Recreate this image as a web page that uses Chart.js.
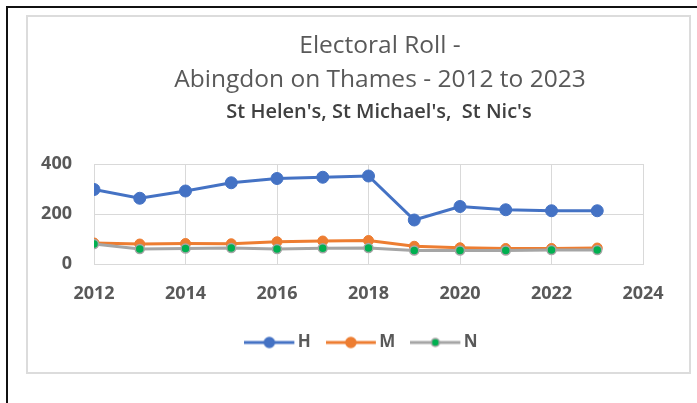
<!DOCTYPE html>
<html>
<head>
<meta charset="utf-8">
<script src="https://cdn.jsdelivr.net/npm/chart.js@4.4.1/dist/chart.umd.min.js"></script>
<style>
  html, body { margin: 0; padding: 0; background: #fff; overflow: hidden; }
  #frame {
    position: absolute; left: 6px; top: 6px; width: 720px; height: 420px;
    border-left: 2px solid #111; border-top: 2px solid #111;
  }
  #box {
    position: absolute; left: 26px; top: 15px; width: 665px; height: 359px;
    box-sizing: border-box; border: 2px solid #dcdcdc;
  }
  #wrap { position: absolute; left: 0; top: 0; width: 697px; height: 403px; }
</style>
</head>
<body>
<div id="frame"></div>
<div id="box"></div>
<div id="wrap"><canvas id="roll-chart"></canvas></div>
<script>
(function () {
  'use strict';

  // --- Data ---
  var years   = [2012, 2013, 2014, 2015, 2016, 2017, 2018, 2019, 2020, 2021, 2022, 2023];
  var seriesH = [298, 263, 292, 325, 342, 347, 352, 176, 230, 217, 213, 213];
  var seriesM = [84, 80, 82, 81, 89, 92, 94, 71, 65, 62, 62, 64];
  var seriesN = [80, 60, 62, 64, 60, 63, 64, 54, 54, 54, 56, 56];
  var seriesNames = ['H', 'M', 'N'];
  var yTicks = [0, 200, 400];
  var xTicks = [2012, 2014, 2016, 2018, 2020, 2022, 2024];
  var titleLines = ['Electoral Roll -', 'Abingdon on Thames - 2012 to 2023'];
  var subTitle = "St Helen's, St Michael's,  St Nic's";

  var colors = {
    blue:  '#4472C4',
    orange: '#ED7D31',
    gray:  '#A5A5A5',
    green: '#00B050',
    text:  '#595959',
    dark:  '#404040',
    grid:  '#d9d9d9'
  };

  function points(values) {
    return values.map(function (v, i) { return { x: years[i], y: v }; });
  }

  // Legend icon: short line with a marker in the middle (Excel style).
  // Drawn in the left 50px of a 60px canvas so it sits close to its label.
  function legendIcon(line, fill, stroke, r) {
    var c = document.createElement('canvas');
    c.width = 60; c.height = 14;
    var g = c.getContext('2d');
    g.strokeStyle = line; g.lineWidth = 3;
    g.beginPath(); g.moveTo(0, 7); g.lineTo(50, 7); g.stroke();
    g.beginPath(); g.arc(25, 7, r, 0, Math.PI * 2);
    g.fillStyle = fill; g.fill();
    g.lineWidth = 1.5; g.strokeStyle = stroke; g.stroke();
    return c;
  }
  var icons = [
    legendIcon(colors.blue, colors.blue, colors.blue, 5),
    legendIcon(colors.orange, colors.orange, colors.orange, 5),
    legendIcon(colors.gray, colors.green, colors.gray, 4)
  ];

  // Title drawn by hand so it sits where the original has it
  var titlePlugin = {
    id: 'excelTitle',
    afterDraw: function (chart) {
      var cx = chart.ctx;
      cx.save();
      cx.textAlign = 'center';
      cx.textBaseline = 'middle';
      cx.fillStyle = colors.text;
      cx.font = '400 24.5px "Open Sans", sans-serif';
      cx.fillText(titleLines[0], 380, 46);
      cx.fillText(titleLines[1], 380, 80);
      cx.fillStyle = colors.dark;
      cx.font = '600 20px "Open Sans", sans-serif';
      cx.fillText(subTitle, 379, 112);
      cx.restore();
    }
  };

  var tickFont = { family: '"Open Sans", sans-serif', size: 18, weight: '700' };
  var xTickFont = { family: '"Open Sans", sans-serif', size: 18, weight: '700', lineHeight: 1 };

  new Chart(document.getElementById('roll-chart'), {
    type: 'line',
    data: {
      datasets: [{
        label: seriesNames[0],
        data: points(seriesH),
        borderColor: colors.blue,
        backgroundColor: colors.blue,
        pointBackgroundColor: colors.blue,
        pointBorderColor: colors.blue,
        borderWidth: 3,
        pointRadius: 6,
        pointBorderWidth: 1,
        order: 3
      }, {
        label: seriesNames[1],
        data: points(seriesM),
        borderColor: colors.orange,
        backgroundColor: colors.orange,
        pointBackgroundColor: colors.orange,
        pointBorderColor: colors.orange,
        borderWidth: 3,
        pointRadius: 5,
        pointBorderWidth: 1,
        order: 2
      }, {
        label: seriesNames[2],
        data: points(seriesN),
        borderColor: colors.gray,
        backgroundColor: colors.green,
        pointBackgroundColor: colors.green,
        pointBorderColor: colors.gray,
        borderWidth: 3,
        pointRadius: 4.5,
        pointBorderWidth: 1.5,
        order: 1
      }]
    },
    options: {
      responsive: true,
      maintainAspectRatio: false,
      animation: false,
      layout: { padding: { left: 40, right: 54, top: 164, bottom: 42 } },
      plugins: {
        title: { display: false },
        tooltip: { enabled: false },
        legend: {
          position: 'bottom',
          fullSize: false,
          labels: {
            usePointStyle: true,
            pointStyleWidth: 30,
            padding: 30,
            color: colors.text,
            font: { family: '"Open Sans", sans-serif', size: 17, weight: '700' },
            sort: function (a, b) { return a.datasetIndex - b.datasetIndex; },
            generateLabels: function (chart) {
              var items = Chart.defaults.plugins.legend.labels.generateLabels(chart);
              items.forEach(function (it) { it.pointStyle = icons[it.datasetIndex]; });
              return items;
            }
          }
        }
      },
      scales: {
        x: {
          type: 'linear',
          min: xTicks[0],
          max: xTicks[xTicks.length - 1],
          afterBuildTicks: function (s) { s.ticks = xTicks.map(function (v) { return { value: v }; }); },
          ticks: {
            padding: 21,
            color: colors.text,
            font: xTickFont,
            callback: function (v) { return String(v); }
          },
          grid: { color: colors.grid, drawTicks: false },
          border: { color: colors.grid },
          afterFit: function (s) { s.height = 40; }
        },
        y: {
          min: yTicks[0],
          max: yTicks[yTicks.length - 1],
          afterBuildTicks: function (s) { s.ticks = yTicks.map(function (v) { return { value: v }; }); },
          ticks: {
            padding: 22,
            color: colors.text,
            font: tickFont
          },
          grid: { color: colors.grid, drawTicks: false },
          border: { color: colors.grid },
          afterFit: function (s) { s.width = 54; }
        }
      }
    },
    plugins: [titlePlugin]
  });
})();
</script>
</body>
</html>
